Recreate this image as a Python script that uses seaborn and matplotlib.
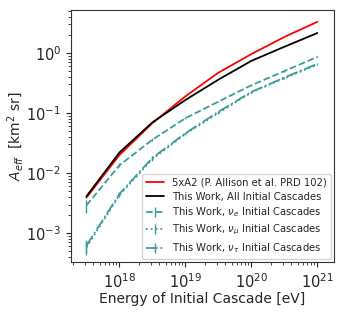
import numpy as np
import pandas as pd
import matplotlib
matplotlib.use("Agg")
import matplotlib.pyplot as plt
import seaborn as sns

energy = [10**17.5, 1e18, 10**18.5, 1e19, 10**19.5, 1e20, 10**20.5, 1e21]
a2_5x = [0.0039, 0.020, 0.068, 0.19, 0.47, 0.96, 1.85, 3.3]
all_casc = [0.0041, 0.022, 0.070, 0.165, 0.36, 0.74, 1.27, 2.15]
nu_e = [0.0029, 0.0135, 0.036, 0.082, 0.155, 0.29, 0.50, 0.86]
nu_mu = [0.00058, 0.0043, 0.017, 0.045, 0.10, 0.22, 0.38, 0.64]
nu_tau = [0.00062, 0.0045, 0.018, 0.046, 0.105, 0.225, 0.39, 0.66]
rel_err = [0.25, 0.08, 0.05, 0.04, 0.03, 0.03, 0.02, 0.02]

labels = ["5xA2 (P. Allison et al. PRD 102)",
          "This Work, All Initial Cascades",
          r"This Work, $\nu_e$ Initial Cascades",
          r"This Work, $\nu_\mu$ Initial Cascades",
          r"This Work, $\nu_\tau$ Initial Cascades"]

sns.set_style("ticks")
plt.rcParams['font.family'] = ['DejaVu Sans']

fig = plt.figure(figsize=(3.46, 3.12), dpi=100)
ax = fig.add_axes([0.205, 0.160, 0.76, 0.808])

df = pd.DataFrame({"E": energy, "red": a2_5x, "black": all_casc})
sns.lineplot(data=df, x="E", y="red", color="red", lw=1.3, ax=ax, label=labels[0])
sns.lineplot(data=df, x="E", y="black", color="black", lw=1.3, ax=ax, label=labels[1])

teal = "#3a9c9c"
for vals, ls, lab in [(nu_e, "--", labels[2]), (nu_mu, ":", labels[3]), (nu_tau, "-.", labels[4])]:
    v = np.array(vals)
    ax.errorbar(energy, v, yerr=v * np.array(rel_err), color=teal, ls=ls, lw=1.3,
                elinewidth=1.0, label=lab)

ax.set_xscale("log")
ax.set_yscale("log")
ax.set_xlim(10**17.265, 10**21.25)
ax.set_ylim(3.3e-4, 5.2)
ax.set_xlabel("Energy of Initial Cascade [eV]", fontsize=10, labelpad=1)
ax.set_ylabel(r"$A_{eff}$  [km$^2$ sr]", fontsize=10, labelpad=0)
ax.tick_params(labelsize=10.5)
ax.legend(loc="lower right", fontsize=7.2, frameon=True, handlelength=1.8,
          borderpad=0.4, labelspacing=0.38, handletextpad=0.8,
          borderaxespad=0.3)
for s in ax.spines.values():
    s.set_color("#333333")
fig.savefig("out.png", dpi=100)
